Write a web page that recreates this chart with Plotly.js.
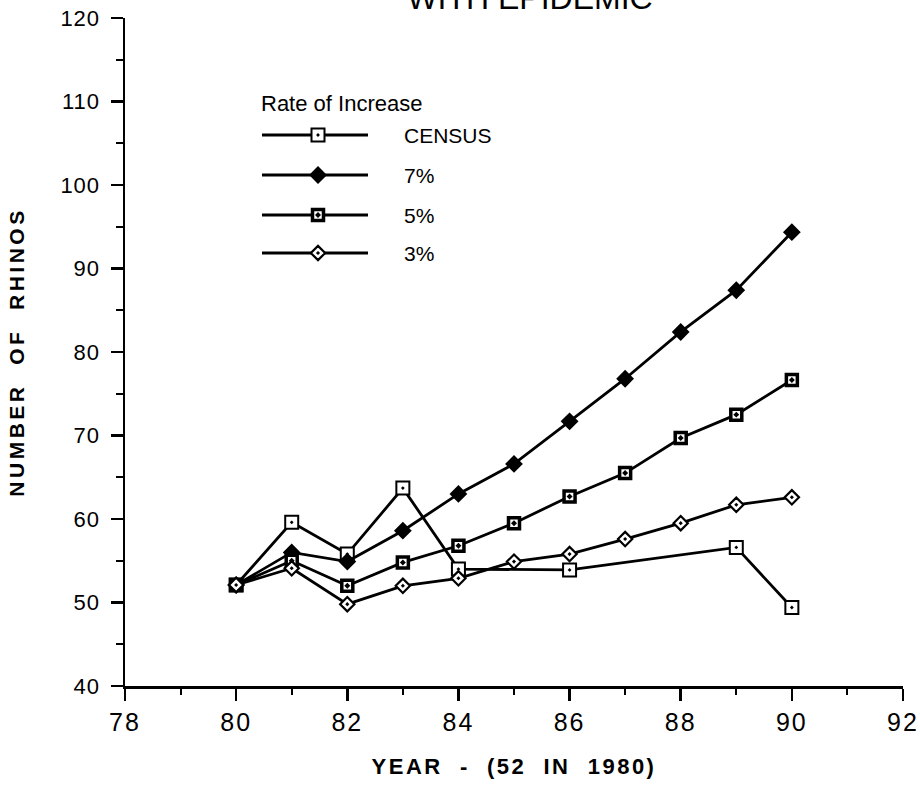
<!DOCTYPE html>
<html>
<head>
<meta charset="utf-8">
<script src="https://cdn.plot.ly/plotly-3.0.1.min.js"></script>
<style>
  html, body { margin: 0; padding: 0; background: #fff; }
  #chart { width: 920px; height: 789px; }
  .ytitle { letter-spacing: 3.5px; }
  .xtitle { letter-spacing: 2.5px; }
  .xtick text { letter-spacing: 2px; }
  .ytick text { letter-spacing: 1px; }
</style>
</head>
<body>
<div id="chart"></div>
<script>
// ---- data ----
const censusYears = [80, 81, 82, 83, 84, 86, 89, 90];
const census      = [52.1, 59.6, 55.8, 63.7, 54.0, 53.9, 56.6, 49.4];

const years = [80, 81, 82, 83, 84, 85, 86, 87, 88, 89, 90];
const rate7 = [52.1, 56.0, 54.9, 58.6, 63.0, 66.6, 71.7, 76.8, 82.4, 87.4, 94.35];
const rate5 = [52.1, 55.0, 52.0, 54.8, 56.8, 59.5, 62.7, 65.5, 69.7, 72.5, 76.65];
const rate3 = [52.1, 54.1, 49.8, 52.0, 52.9, 54.9, 55.8, 57.6, 59.5, 61.7, 62.6];

const seriesNames = ['CENSUS', '7%', '5%', '3%'];
const legendTitle = 'Rate of Increase';
const chartTitle = 'WITH EPIDEMIC';
const xTitle = 'YEAR&nbsp;&nbsp;-&nbsp;&nbsp;(52&nbsp;&nbsp;IN&nbsp;&nbsp;1980)';
const yTitle = 'NUMBER&nbsp;&nbsp;OF&nbsp;&nbsp;RHINOS';

// ---- styles ----
const LINE = {color: '#000', width: 2.8};
const markerStyles = [
  {symbol: 'square-dot',  size: 13, color: '#fff', line: {color: '#000', width: 2}},
  {symbol: 'diamond',     size: 11, color: '#000', line: {color: '#000', width: 2.5}},
  {symbol: 'square-dot',  size: 11, color: '#fff', line: {color: '#000', width: 3.5}},
  {symbol: 'diamond-dot', size: 11, color: '#fff', line: {color: '#000', width: 2.2}}
];

const seriesX = [censusYears, years, years, years];
const seriesY = [census, rate7, rate5, rate3];

const traces = [];
seriesY.forEach((ys, i) => {
  traces.push({
    x: seriesX[i], y: ys, name: seriesNames[i],
    type: 'scatter', mode: 'lines+markers',
    line: LINE, marker: markerStyles[i],
    cliponaxis: false, showlegend: false, hoverinfo: 'x+y+name'
  });
});

// ---- hand-drawn legend on an overlay axis (page-pixel coordinates) ----
const legRows = [135, 175, 215, 253];
const legX0 = 262, legX1 = 368, legXm = 318, legText = 402;
legRows.forEach((ry, i) => {
  traces.push({
    x: [legX0, legX1], y: [ry, ry], xaxis: 'x2', yaxis: 'y2',
    type: 'scatter', mode: 'lines', line: LINE, showlegend: false, hoverinfo: 'skip'
  });
  traces.push({
    x: [legXm], y: [ry], xaxis: 'x2', yaxis: 'y2',
    type: 'scatter', mode: 'markers', marker: markerStyles[i],
    showlegend: false, hoverinfo: 'skip', cliponaxis: false
  });
});

const annotations = [
  {xref: 'x2', yref: 'y2', x: 259, y: 103, text: legendTitle, showarrow: false,
   xanchor: 'left', yanchor: 'middle', font: {family: 'Liberation Sans, Arial, sans-serif', size: 22, color: '#000'}}
];
legRows.forEach((ry, i) => {
  annotations.push({
    xref: 'x2', yref: 'y2', x: legText, y: ry, text: seriesNames[i], showarrow: false,
    xanchor: 'left', yanchor: 'middle',
    font: {family: 'Liberation Sans, Arial, sans-serif', size: 21, color: '#000'}
  });
});

const FONT = 'Liberation Sans, Arial, Helvetica, sans-serif';

const layout = {
  width: 920, height: 789,
  paper_bgcolor: '#fff', plot_bgcolor: '#fff',
  margin: {l: 125, r: 17, t: 18, b: 103, pad: 0},
  showlegend: false,
  font: {family: FONT, color: '#000'},
  title: {
    text: chartTitle, xref: 'container', yref: 'container',
    x: 530 / 920, xanchor: 'center', y: 1 - 9 / 789, yanchor: 'bottom',
    font: {family: FONT, size: 32, color: '#000'}
  },
  xaxis: {
    range: [78, 92], dtick: 2, tick0: 78,
    showline: true, linecolor: '#000', linewidth: 2.5,
    ticks: 'outside', ticklen: 12, tickwidth: 2.5, tickcolor: '#000',
    minor: {dtick: 1, ticks: 'outside', ticklen: 6, tickwidth: 2, tickcolor: '#000'},
    showgrid: false, zeroline: false,
    tickfont: {family: FONT, size: 25, color: '#000'},
    title: {text: xTitle, standoff: 24, font: {family: FONT, size: 22, color: '#000', weight: 'bold'}},
    fixedrange: true
  },
  yaxis: {
    range: [40, 120], dtick: 10, tick0: 40,
    showline: true, linecolor: '#000', linewidth: 2.5,
    ticks: 'outside', ticklen: 12, tickwidth: 2.5, tickcolor: '#000',
    minor: {dtick: 5, ticks: 'outside', ticklen: 7, tickwidth: 2, tickcolor: '#000'},
    showgrid: false, zeroline: false,
    tickfont: {family: FONT, size: 22, color: '#000'},
    ticklabelstandoff: 6,
    title: {text: yTitle, standoff: 30, font: {family: FONT, size: 21, color: '#000', weight: 'bold'}},
    fixedrange: true
  },
  xaxis2: {overlaying: 'x', anchor: 'y2', range: [125, 903], visible: false, fixedrange: true},
  yaxis2: {overlaying: 'y', anchor: 'x2', range: [686, 18], visible: false, fixedrange: true},
  annotations: annotations
};

Plotly.newPlot('chart', traces, layout, {displayModeBar: false, staticPlot: true});
</script>
</body>
</html>
